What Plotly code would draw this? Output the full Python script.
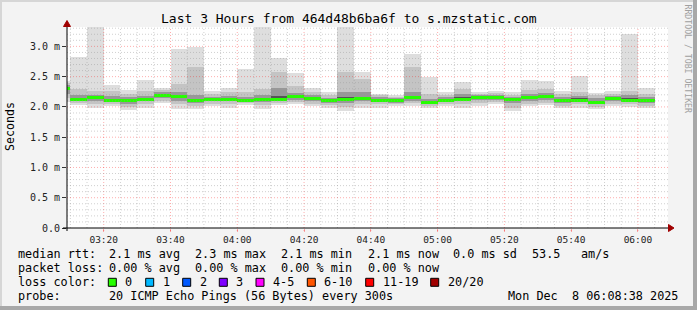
import plotly.graph_objects as go
import pandas as pd

# ---------------- data ----------------
bar_start_first = "2025-12-08 03:05:00"   # each bar covers 5 minutes (300 s step)
step_minutes = 5
rtt_min = [2.08, 2.03, 1.98, 2.01, 1.95, 1.99, 2.07, 1.97, 1.97, 2.01, 1.99, 2.03,
           1.97, 2.03, 2.05, 2.01, 1.99, 1.94, 1.99, 1.98, 2.01, 2.02, 1.98, 2.01,
           1.99, 2.01, 2.04, 1.94, 2.01, 2.03, 1.98, 1.99, 1.96, 2.01, 2.00, 1.98]
rtt_p10 = [2.14, 2.06, 2.04, 2.05, 2.00, 2.04, 2.10, 2.04, 2.02, 2.05, 2.05, 2.06,
           2.03, 2.07, 2.08, 2.05, 2.03, 2.00, 2.04, 2.04, 2.04, 2.06, 2.01, 2.04,
           2.05, 2.06, 2.08, 1.99, 2.05, 2.07, 2.02, 2.04, 2.00, 2.05, 2.04, 2.02]
rtt_p25 = [2.22, 2.09, 2.10, 2.08, 2.05, 2.09, 2.14, 2.10, 2.06, 2.09, 2.09, 2.09,
           2.08, 2.10, 2.12, 2.10, 2.07, 2.07, 2.09, 2.08, 2.07, 2.10, 2.04, 2.08,
           2.09, 2.11, 2.12, 2.06, 2.09, 2.12, 2.07, 2.08, 2.04, 2.10, 2.08, 2.06]
rtt_p40 = [2.28, 2.12, 2.14, 2.09, 2.09, 2.12, 2.17, 2.15, 2.09, 2.11, 2.12, 2.10,
           2.12, 2.12, 2.16, 2.13, 2.09, 2.11, 2.12, 2.10, 2.09, 2.13, 2.06, 2.10,
           2.12, 2.14, 2.14, 2.11, 2.13, 2.15, 2.10, 2.10, 2.07, 2.13, 2.10, 2.09]
rtt_median = [2.31, 2.13, 2.15, 2.10, 2.11, 2.13, 2.19, 2.17, 2.10, 2.12, 2.13, 2.11,
              2.13, 2.13, 2.17, 2.14, 2.10, 2.13, 2.14, 2.11, 2.10, 2.15, 2.07, 2.11,
              2.13, 2.15, 2.15, 2.13, 2.15, 2.17, 2.11, 2.11, 2.08, 2.14, 2.11, 2.10]
rtt_p60 = [2.33, 2.15, 2.17, 2.12, 2.13, 2.15, 2.21, 2.19, 2.12, 2.14, 2.15, 2.13,
           2.15, 2.18, 2.19, 2.16, 2.12, 2.16, 2.17, 2.13, 2.12, 2.18, 2.09, 2.13,
           2.16, 2.17, 2.17, 2.15, 2.17, 2.19, 2.13, 2.14, 2.10, 2.16, 2.14, 2.12]
rtt_p75 = [2.36, 2.19, 2.20, 2.18, 2.16, 2.18, 2.24, 2.24, 2.20, 2.17, 2.18, 2.16,
           2.19, 2.31, 2.23, 2.19, 2.15, 2.25, 2.24, 2.16, 2.14, 2.24, 2.13, 2.16,
           2.22, 2.19, 2.19, 2.17, 2.21, 2.23, 2.16, 2.18, 2.14, 2.18, 2.19, 2.16]
rtt_p90 = [2.40, 2.30, 2.26, 2.26, 2.22, 2.26, 2.28, 2.38, 2.66, 2.22, 2.24, 2.24,
           2.30, 2.58, 2.34, 2.24, 2.20, 2.58, 2.46, 2.19, 2.17, 2.66, 2.22, 2.20,
           2.30, 2.22, 2.23, 2.20, 2.28, 2.30, 2.21, 2.24, 2.19, 2.22, 2.27, 2.22]
rtt_max = [2.43, 2.83, 3.38, 2.37, 2.28, 2.44, 2.32, 2.95, 2.99, 2.26, 2.31, 2.63,
           3.38, 2.80, 2.56, 2.31, 2.25, 3.38, 2.58, 2.21, 2.19, 2.88, 2.49, 2.24,
           2.41, 2.25, 2.26, 2.24, 2.44, 2.43, 2.26, 2.51, 2.23, 2.27, 3.20, 2.31]
loss_count = [0] * 36   # lost pings out of 20 per step

x_tick_labels = ["03:20", "03:40", "04:00", "04:20", "04:40", "05:00", "05:20", "05:40", "06:00"]
y_tick_vals = [0.0, 0.5, 1.0, 1.5, 2.0, 2.5, 3.0]
y_tick_labels = ["0.0", "0.5 m", "1.0 m", "1.5 m", "2.0 m", "2.5 m", "3.0 m"]

legend_loss_labels = ["0", "1", "2", "3", "4-5", "6-10", "11-19", "20/20"]
legend_loss_colors = ["#26ff00", "#00b8ff", "#0059ff", "#7e00ff", "#ff00fe", "#ff5500", "#ff0000", "#a10000"]

title_text = "Last 3 Hours from 464d48b6ba6f to s.mzstatic.com"
date_text = "Mon Dec\u00a0\u00a08 06:08:38 2025"

# ---------------- geometry ----------------
W, H = 697, 310
L, R, T, B = 67, 668, 27, 228
X0 = pd.Timestamp("2025-12-08 03:09:00")
X1 = pd.Timestamp("2025-12-08 06:09:00")
Y_TOP = 3.32
FONT = "DejaVu Sans Mono"


def px(x):
    return (x - L) / (R - L)


def py(y):
    return (B - y) / (B - T)


def loss_color(n):
    if n == 0:
        return legend_loss_colors[0]
    if n == 1:
        return legend_loss_colors[1]
    if n == 2:
        return legend_loss_colors[2]
    if n == 3:
        return legend_loss_colors[3]
    if n <= 5:
        return legend_loss_colors[4]
    if n <= 10:
        return legend_loss_colors[5]
    if n < 20:
        return legend_loss_colors[6]
    return legend_loss_colors[7]


n = len(rtt_median)
t0 = pd.Timestamp(bar_start_first)
centers = [t0 + pd.Timedelta(minutes=step_minutes * i + step_minutes / 2) for i in range(n)]
bar_w = step_minutes * 60 * 1000

fig = go.Figure()

layers = [
    (rtt_min, rtt_max, "#dedede"),
    (rtt_p10, rtt_p90, "#c4c4c4"),
    (rtt_p25, rtt_p75, "#989898"),
    (rtt_p40, rtt_p60, "#555555"),
]
for lo, hi, col in layers:
    fig.add_trace(go.Bar(
        x=centers, base=lo, y=[h - l for h, l in zip(hi, lo)], width=bar_w,
        marker=dict(color=col, line=dict(width=0)), showlegend=False, hoverinfo="skip"))

band = 0.025
fig.add_trace(go.Bar(
    x=centers, base=[m - band for m in rtt_median], y=[2 * band] * n, width=bar_w,
    marker=dict(color=[loss_color(c) for c in loss_count], line=dict(width=0)),
    showlegend=False, hoverinfo="skip"))

shapes = []
# grid (drawn above the smoke, rrdtool style)
minor_col = "rgba(150,150,150,0.45)"
major_col = "rgba(255,0,0,0.32)"
dots = "1px,2px"
t = pd.Timestamp("2025-12-08 03:10:00")
while t < X1:
    major = (t.minute % 20 == 0)
    shapes.append(dict(type="line", xref="x", yref="paper", x0=t, x1=t,
                       y0=py(231) if major else 0, y1=1, layer="above",
                       line=dict(color=major_col if major else minor_col, width=1, dash=dots)))
    t += pd.Timedelta(minutes=5)
k = 1
while k / 10 < Y_TOP:
    v = k / 10
    major = (k % 5 == 0)
    shapes.append(dict(type="line", xref="paper", yref="y", x0=0, x1=1, y0=v, y1=v, layer="above",
                       line=dict(color=major_col if major else minor_col, width=1, dash=dots)))
    k += 1

# axes lines and arrows
shapes.append(dict(type="line", xref="paper", yref="paper", x0=px(63), x1=px(669), y0=0, y1=0,
                   layer="above", line=dict(color="black", width=1)))
shapes.append(dict(type="line", xref="paper", yref="paper", x0=0, x1=0, y0=py(231), y1=py(25),
                   layer="above", line=dict(color="black", width=1)))
arrow_col = "#a00000"
shapes.append(dict(type="path", xref="paper", yref="paper", layer="above",
                   path=f"M {px(63.5)} {py(26.5)} L {px(70.5)} {py(26.5)} L {px(67)} {py(20.5)} Z",
                   fillcolor=arrow_col, line=dict(color=arrow_col, width=1)))
shapes.append(dict(type="path", xref="paper", yref="paper", layer="above",
                   path=f"M {px(668.5)} {py(224.5)} L {px(668.5)} {py(231.5)} L {px(674)} {py(228)} Z",
                   fillcolor=arrow_col, line=dict(color=arrow_col, width=1)))

# image frame
shapes.append(dict(type="rect", xref="paper", yref="paper", x0=px(0), x1=px(697), y0=py(0), y1=py(2),
                   fillcolor="#d6d6d6", line=dict(width=0), layer="below"))
shapes.append(dict(type="rect", xref="paper", yref="paper", x0=px(0), x1=px(2), y0=py(0), y1=py(310),
                   fillcolor="#d6d6d6", line=dict(width=0), layer="below"))
shapes.append(dict(type="rect", xref="paper", yref="paper", x0=px(693), x1=px(697), y0=py(0), y1=py(310),
                   fillcolor="#a8a8a8", line=dict(width=0), layer="below"))
shapes.append(dict(type="rect", xref="paper", yref="paper", x0=px(0), x1=px(697), y0=py(306), y1=py(310),
                   fillcolor="#a8a8a8", line=dict(width=0), layer="below"))

annotations = []


def text(x, y, s, size=11.8, anchor="left", color="black", angle=0):
    annotations.append(dict(xref="paper", yref="paper", x=px(x), y=py(y), text=s, showarrow=False,
                            xanchor=anchor, yanchor="middle", textangle=angle,
                            font=dict(family=FONT, size=size, color=color)))


text(348.5, 19, title_text, size=13, anchor="center")
text(10, 127, "Seconds", size=11.6, anchor="center", angle=-90)
text(688, 58.5, "RRDTOOL / TOBI OETIKER", size=8.2, anchor="center", color="#a0a0a0", angle=90)

# legend rows
rows_y = [254.3, 267.7, 282.3, 295.7]
text(16, rows_y[0], "median rtt:")
for xx, s in [(107.3, "2.1 ms avg"), (193.3, "2.3 ms max"), (279.3, "2.1 ms min"), (366, "2.1 ms now"),
              (451, "0.0 ms sd"), (530, "53.5"), (579.3, "am/s")]:
    text(xx, rows_y[0], s)
text(16, rows_y[1], "packet loss:")
for xx, s in [(107.3, "0.00 % avg"), (193.3, "0.00 % max"), (279.3, "0.00 % min"), (366, "0.00 % now")]:
    text(xx, rows_y[1], s)
text(16, rows_y[2], "loss color:")
box_x = [108.3, 145.7, 182.7, 219.3, 256, 307.3, 365.7, 430.7]
for bx, lab, col in zip(box_x, legend_loss_labels, legend_loss_colors):
    shapes.append(dict(type="rect", xref="paper", yref="paper", x0=px(bx), x1=px(bx + 8),
                       y0=py(rows_y[2] - 4), y1=py(rows_y[2] + 4), fillcolor=col,
                       line=dict(color="black", width=1), layer="above"))
    text(bx + 15, rows_y[2], lab)
text(16, rows_y[3], "probe:")
text(107.3, rows_y[3], "20 ICMP Echo Pings (56 Bytes) every 300s")
text(680, rows_y[3], date_text, anchor="right")

x_tick_vals = [pd.Timestamp("2025-12-08 " + s) for s in x_tick_labels]

fig.update_layout(
    width=W, height=H, autosize=False,
    margin=dict(l=L, r=W - R, t=T, b=H - B, pad=0),
    paper_bgcolor="#f3f3f3", plot_bgcolor="white",
    barmode="overlay", bargap=0, showlegend=False,
    shapes=shapes, annotations=annotations,
    xaxis=dict(range=[X0, X1], type="date", showgrid=False, zeroline=False, showline=False,
               tickvals=x_tick_vals, ticktext=x_tick_labels, ticks="outside", ticklen=3,
               tickcolor="rgba(255,0,0,0.32)",
               tickfont=dict(family=FONT, size=9.5, color="#222")),
    yaxis=dict(range=[0, Y_TOP], showgrid=False, zeroline=False, showline=False,
               tickvals=y_tick_vals, ticktext=y_tick_labels, ticks="outside", ticklen=4,
               tickcolor="#333", tickfont=dict(family=FONT, size=10, color="#222")),
)

fig.write_html("out.html")
